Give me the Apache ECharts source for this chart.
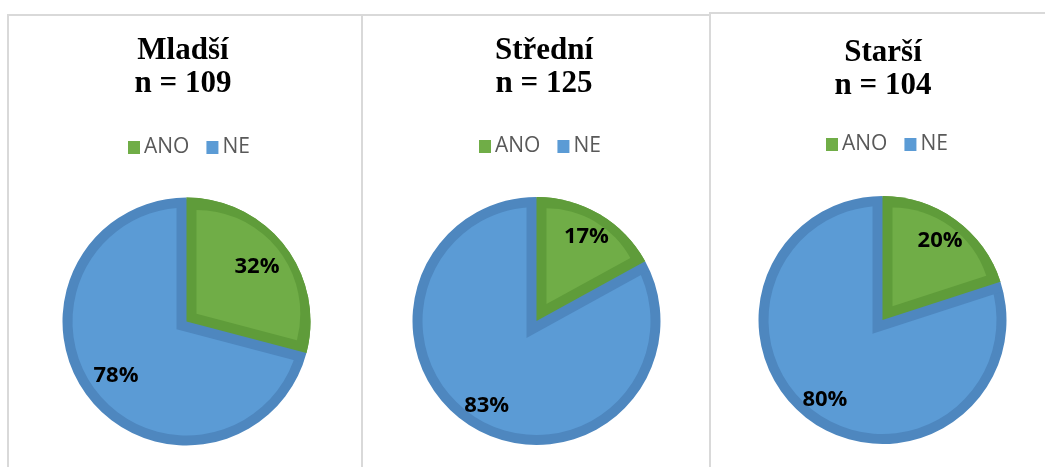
<!DOCTYPE html>
<html>
<head>
<meta charset="utf-8">
<script src="https://cdn.jsdelivr.net/npm/echarts@6/dist/echarts.min.js"></script>
<style>
html,body{margin:0;padding:0;background:#fff;}
#chart{width:1045px;height:467px;}
</style>
</head>
<body>
<div id="chart"></div>
<script>
// ---- data ----
const groups = ['Mladší', 'Střední', 'Starší'];
const nValues = [109, 125, 104];
const anoValues = [32, 17, 20];
const neValues = [78, 83, 80];
const legendNames = ['ANO', 'NE'];

// ---- styles / layout ----
const lightGreen = '#70AD47', darkGreen = '#5F9C3A';
const lightBlue = '#5B9BD5', darkBlue = '#4E87BF';
const clear = 'rgba(0,0,0,0)';
const panels = [
  {x0: 8, x1: 362, y0: 15, cx: 186.5, cy: 321.5, tx: 178, ty: 29, lx: 123, ly: 132, labR: 172},
  {x0: 362, x1: 710, y0: 15, cx: 536.5, cy: 321, tx: 539, ty: 29, lx: 474, ly: 131, labR: 190},
  {x0: 710, x1: 1052, y0: 13, cx: 882.5, cy: 320, tx: 878, ty: 31, lx: 821, ly: 129, labR: 190}
];
const R = 124, band = 10;

const series = [];
const titles = [];
const legends = [];
const graphics = [];
const base = {type: 'pie', silent: true, startAngle: 90, clockwise: true,
  label: {show: false}, labelLine: {show: false}, emphasis: {disabled: true},
  animation: false, avoidLabelOverlap: false};

function pieData(i, cA, cN) {
  return [
    {name: legendNames[0], value: anoValues[i], itemStyle: {color: cA, borderWidth: 0}},
    {name: legendNames[1], value: neValues[i], itemStyle: {color: cN, borderWidth: 0}}
  ];
}

panels.forEach((p, i) => {
  const total = anoValues[i] + neValues[i];
  const h = anoValues[i] / total * Math.PI; // half-angle of ANO slice (rad)
  const ux = Math.sin(h), uy = -Math.cos(h); // bisector of ANO
  const d = band / Math.sin(h);
  const cosH = Math.cos(h);
  // 1: outer dark disc
  series.push(Object.assign({}, base, {z: 1, center: [p.cx, p.cy], radius: R, data: pieData(i, darkGreen, darkBlue)}));
  // 2: light blue fill
  series.push(Object.assign({}, base, {z: 2, center: [p.cx, p.cy], radius: R - band, data: pieData(i, clear, lightBlue)}));
  // 3: dark blue band along the radial edges
  series.push(Object.assign({}, base, {z: 3, center: [p.cx - d * ux, p.cy - d * uy], radius: R + d * cosH - 1, data: pieData(i, darkBlue, clear)}));
  // 4: dark green slice
  series.push(Object.assign({}, base, {z: 4, center: [p.cx, p.cy], radius: R, data: pieData(i, darkGreen, clear)}));
  // 5: light green inset
  series.push(Object.assign({}, base, {z: 5, center: [p.cx + d * ux, p.cy + d * uy], radius: R - band - d * (1 + cosH) / 2, data: pieData(i, lightGreen, clear)}));
  // 6: labels
  series.push(Object.assign({}, base, {z: 6, center: [p.cx, p.cy], radius: p.labR, data: pieData(i, clear, clear),
    label: {show: true, position: 'inside', formatter: '{c}%', color: '#000', fontFamily: 'Open Sans', fontWeight: 'bold', fontSize: 22}}));

  titles.push({text: groups[i] + '\nn = ' + nValues[i], left: p.tx, top: p.ty, textAlign: 'center',
    textStyle: {fontFamily: 'Liberation Serif', fontWeight: 'bold', fontSize: 31, lineHeight: 33, color: '#000'}});
  legends.push({left: p.lx, top: p.ly, icon: 'rect', itemWidth: 12, itemHeight: 13, itemGap: 17, selectedMode: false,
    data: [{name: legendNames[0], itemStyle: {color: lightGreen}}, {name: legendNames[1], itemStyle: {color: lightBlue}}],
    textStyle: {fontFamily: 'Open Sans', fontSize: 21, color: '#595959', padding: [0, 0, 0, -1]}});
  graphics.push({type: 'polyline', silent: true, z: 0,
    shape: {points: [[p.x0, 480], [p.x0, p.y0], [p.x1, p.y0], [p.x1, 480]]},
    style: {stroke: '#D9D9D9', lineWidth: 2, fill: null}});
});

const chart = echarts.init(document.getElementById('chart'), null, {renderer: 'canvas'});
chart.setOption({
  backgroundColor: '#fff',
  animation: false,
  title: titles,
  legend: legends,
  graphic: graphics,
  series: series
});
</script>
</body>
</html>
